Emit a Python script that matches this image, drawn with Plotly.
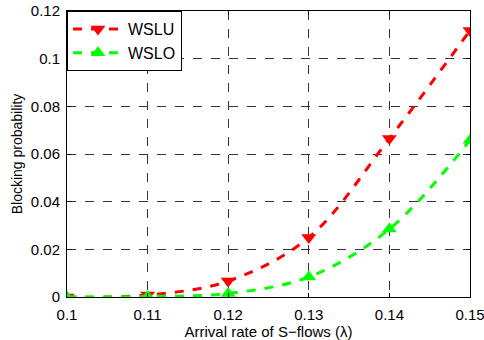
import plotly.graph_objects as go

x = [0.10, 0.11, 0.12, 0.13, 0.14, 0.15]
wslu = [0.0, 0.0008, 0.0067, 0.0250, 0.0665, 0.1118]
wslo = [0.0, 0.0002, 0.0015, 0.0084, 0.0285, 0.0658]
xticks = [0.10, 0.11, 0.12, 0.13, 0.14, 0.15]
xticklabels = ["0.1", "0.11", "0.12", "0.13", "0.14", "0.15"]
yticks = [0, 0.02, 0.04, 0.06, 0.08, 0.10, 0.12]
yticklabels = ["0", "0.02", "0.04", "0.06", "0.08", "0.1", "0.12"]

fig = go.Figure()
fig.add_trace(go.Scatter(x=x, y=wslu, name="WSLU", mode="lines+markers",
                         line=dict(color="#ff0000", width=3, dash="dash", shape="spline"),
                         marker=dict(symbol="triangle-down", size=13, color="#ff0000")))
fig.add_trace(go.Scatter(x=x, y=wslo, name="WSLO", mode="lines+markers",
                         line=dict(color="#00ff00", width=3, dash="dash", shape="spline"),
                         marker=dict(symbol="triangle-up", size=13, color="#00ff00")))

axis_common = dict(showline=True, linecolor="black", linewidth=1, mirror="ticks",
                   ticks="inside", ticklen=4, tickcolor="black", automargin=False,
                   ticklabeloverflow="allow",
                   showgrid=True, gridcolor="#333333", griddash="dash", gridwidth=1,
                   zeroline=False, tickfont=dict(size=15, color="black"))

fig.update_xaxes(range=[0.1, 0.15], tickvals=xticks, ticktext=xticklabels,
                 ticklabelstandoff=4,
                 title=dict(text="Arrival rate of S\u2212flows (\u03bb)", font=dict(size=15, color="black"), standoff=4),
                 **axis_common)
fig.update_yaxes(range=[0, 0.12], tickvals=yticks, ticktext=yticklabels,
                 ticklabelstandoff=3,
                 title=dict(text="Blocking probability", font=dict(size=14, color="black"), standoff=4),
                 **axis_common)

fig.update_layout(width=484, height=340, margin=dict(l=67, r=14, t=11, b=43),
                  paper_bgcolor="white", plot_bgcolor="white",
                  font=dict(family="Liberation Sans, Arial, sans-serif", size=15, color="black"),
                  legend=dict(x=0, y=1, xanchor="left", yanchor="top", itemwidth=50,
                              bgcolor="white", bordercolor="black", borderwidth=1,
                              font=dict(size=16)))

fig.write_html("out.html")
